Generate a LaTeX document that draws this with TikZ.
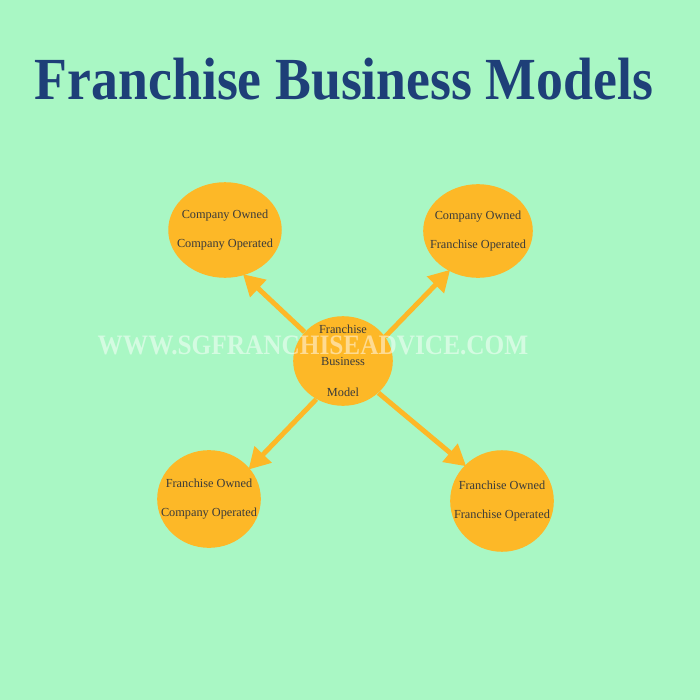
\documentclass[tikz,border=0pt]{standalone}
\usepackage{fontspec}
\setmainfont{Liberation Serif}
\usepackage{xcolor}
\usetikzlibrary{arrows.meta,shapes.geometric}

\definecolor{bgmint}{HTML}{A9F7C4}
\definecolor{titlenavy}{HTML}{1E3F78}
\definecolor{blobgold}{HTML}{FDB827}
\definecolor{inktext}{HTML}{3A3A3A}

\tikzset{
  blob/.style={ellipse, fill=blobgold, inner sep=0pt},
  blobtext/.style={align=center, text=inktext, font=\fontsize{7}{15}\selectfont},
  spoke/.style={draw=blobgold, line width=2.8pt,
    -{Triangle[length=12pt,width=13pt]}, shorten >=-1pt},
}

\begin{document}
\begin{tikzpicture}[x=0.02cm, y=-0.02cm]
                % background and frame
                \fill [bgmint] (0,0) rectangle (700,700);
                \useasboundingbox (0,0) rectangle (700,700);
                % title
                \node (title) [text=titlenavy, font=\bfseries\fontsize{34}{34}\selectfont, xscale=0.9]
                    at (344,79) {Franchise Business Models};
                % the five models
                \node (mid) [blob, minimum width=56.7pt, minimum height=51pt,
                    label={[blobtext]center:Franchise\\[3pt]Business\\[3pt]Model}] at (343,361) {};
                \node (tl) [blob, minimum width=64.6pt, minimum height=54.4pt,
                    label={[blobtext]center:Company Owned\\[1.4pt]Company Operated}] at (225,230) {};
                \node (tr) [blob, minimum width=62.4pt, minimum height=53.3pt,
                    label={[blobtext]center:Company Owned\\[1.4pt]Franchise Operated}] at (478,231) {};
                \node (bl) [blob, minimum width=59pt, minimum height=55.6pt,
                    label={[blobtext]center:Franchise Owned\\[1.4pt]Company Operated}] at (209,499) {};
                \node (br) [blob, minimum width=59pt, minimum height=57.8pt,
                    label={[blobtext]center:Franchise Owned\\[1.4pt]Franchise Operated}] at (502,501) {};
                % spokes
                \draw [spoke] (mid.143) -- (tl.-67);
                \draw [spoke] (mid.30) -- (tr.234);
                \draw [spoke] (mid.235) -- (bl.37);
                \draw [spoke] (mid.-42) -- (br.136);
                % watermark
                \node (mark) [text=white, opacity=0.5, font=\bfseries\fontsize{16}{16}\selectfont, xscale=0.9]
                    at (313,345) {WWW.SGFRANCHISEADVICE.COM};
\end{tikzpicture}
\end{document}
